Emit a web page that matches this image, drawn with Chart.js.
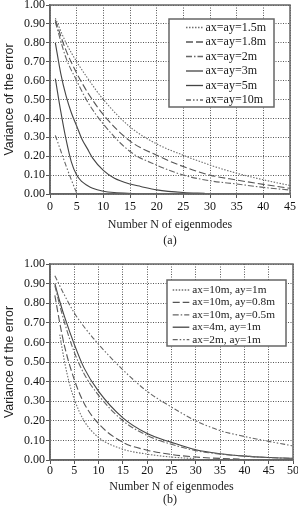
<!DOCTYPE html>
<html><head><meta charset="utf-8">
<script src="https://cdn.jsdelivr.net/npm/chart.js@4/dist/chart.umd.min.js"></script>
<style>
html,body{margin:0;padding:0;background:#fff;width:298px;height:506px;overflow:hidden}
.p{position:absolute;left:0;width:298px;height:253px}
</style></head><body>
<div class="p" style="top:0"><canvas id="ca"></canvas></div>
<div class="p" style="top:253px"><canvas id="cb"></canvas></div>
<script>
// ---------- Panel (a) data ----------
const labelsA = ["ax=ay=1.5m","ax=ay=1.8m","ax=ay=2m","ax=ay=3m","ax=ay=5m","ax=ay=10m"];
const xA15 = [1,3,5,7,10,15,20,25,30,35,40,45];
const yA15 = [0.93,0.80,0.70,0.615,0.50,0.355,0.265,0.205,0.153,0.11,0.075,0.045];
const xA18 = [1,3,5,7,10,15,20,25,30,35,40,45];
const yA18 = [0.92,0.76,0.64,0.54,0.42,0.28,0.205,0.145,0.10,0.074,0.051,0.03];
const xA2 = [1,3,5,7,10,15,20,25,30,35,40,45];
const yA2 = [0.91,0.72,0.60,0.49,0.37,0.225,0.153,0.10,0.07,0.053,0.035,0.021];
const xA3 = [1,2,3,4,5,6,7,8,10,12,15,17,20,25,29];
const yA3 = [0.80,0.64,0.52,0.43,0.36,0.29,0.24,0.19,0.125,0.085,0.053,0.04,0.022,0.008,0.004];
const xA5 = [1,2,3,4,5,6,7,8,10,12,16];
const yA5 = [0.61,0.44,0.29,0.17,0.10,0.065,0.045,0.03,0.015,0.008,0.003];
const xA10 = [1,2,3,4,5];
const yA10 = [0.31,0.23,0.15,0.075,0.005];
const xTicksA = [0,5,10,15,20,25,30,35,40,45];

// ---------- Panel (b) data ----------
const labelsB = ["ax=10m, ay=1m","ax=10m, ay=0.8m","ax=10m, ay=0.5m","ax=4m, ay=1m","ax=2m, ay=1m"];
const xB1 = [2,3,4,5,7,10,15,20,25,30];
const yB1 = [0.64,0.50,0.39,0.31,0.20,0.115,0.055,0.03,0.015,0.007];
const xB2 = [1,2,3,5,7,10,15,20,25,30,35,39];
const yB2 = [0.84,0.70,0.58,0.41,0.29,0.185,0.09,0.05,0.028,0.015,0.008,0.005];
const xB3 = [1,2,3,5,7,10,15,20,25,30,35,40,45,50];
const yB3 = [0.89,0.79,0.70,0.55,0.44,0.33,0.20,0.125,0.08,0.048,0.03,0.02,0.012,0.008];
const xB4 = [1,2,3,5,7,10,15,20,25,30,35,40,45,50];
const yB4 = [0.90,0.81,0.73,0.59,0.47,0.35,0.215,0.135,0.09,0.052,0.032,0.02,0.013,0.009];
const xB5 = [1,3,5,7,10,15,20,25,30,35,40,45,50];
const yB5 = [0.94,0.84,0.75,0.68,0.59,0.46,0.35,0.27,0.20,0.15,0.12,0.095,0.072];
const xTicksB = [0,5,10,15,20,25,30,35,40,45,50];
const yTicks = [0,0.1,0.2,0.3,0.4,0.5,0.6,0.7,0.8,0.9,1.0];

const xTitle = "Number N of eigenmodes";
const yTitle = "Variance of the error";

// ---------- styles ----------
const SERIF = "'Liberation Serif','Times New Roman',serif";
const SANS = "'Liberation Sans',Arial,sans-serif";
const DOT = [1.5,1.5], DASH = [7,3], DASHDOT = [6,2,1.5,2], DASHDOTDOT = [5,2,1.5,2,1.5,2];
function pts(xs, ys){ return xs.map((x,i)=>({x:x,y:ys[i]})); }
function ds(label, xs, ys, color, dash, w){
  return {label, data: pts(xs,ys), borderColor: color, borderDash: dash, borderWidth: w||1.1,
    pointRadius: 0, fill:false, cubicInterpolationMode:'monotone', borderCapStyle:'butt'};
}

const deco = {
  id: 'deco',
  afterDatasetsDraw(chart, args, o){
    const ctx = chart.ctx, a = chart.chartArea;
    ctx.save();
    ctx.strokeStyle = '#666'; ctx.lineWidth = 1.5; ctx.setLineDash([]);
    ctx.strokeRect(a.left, a.top, a.right-a.left, a.bottom-a.top);
    const L = o.legend;
    ctx.fillStyle = '#fff';
    ctx.fillRect(L.x1, L.y1, L.x2-L.x1, L.y2-L.y1);
    ctx.strokeRect(L.x1, L.y1, L.x2-L.x1, L.y2-L.y1);
    ctx.font = L.font + 'px ' + SERIF;
    ctx.textBaseline = 'middle'; ctx.textAlign = 'left';
    chart.data.datasets.forEach((d,i)=>{
      const y = L.row0 + i*L.dy;
      ctx.beginPath();
      ctx.strokeStyle = d.borderColor; ctx.lineWidth = d.borderWidth+0.2;
      ctx.setLineDash(d.borderDash||[]);
      ctx.moveTo(L.s1, y); ctx.lineTo(L.s2, y); ctx.stroke();
      ctx.setLineDash([]);
      ctx.fillStyle = '#1a1a1a';
      ctx.fillText(d.label, L.tx, y);
    });
    ctx.font = '12px ' + SERIF; ctx.fillStyle = '#1a1a1a'; ctx.textAlign = 'center';
    ctx.fillText(o.panel, o.px, o.py);
    ctx.restore();
  }
};

function makeChart(id, datasets, xmax, xticks, pad, xH, xTickPad, xTitlePad, plug){
  const grid = { color: '#555', lineWidth: 1, tickLength: 4, tickColor:'#555', drawTicks: true };
  const border = { display: true, color:'#666', width: 1.5, dash: [1,1.5] };
  return new Chart(document.getElementById(id), {
    type: 'line',
    data: { datasets },
    plugins: [plug],
    options: {
      responsive: true, maintainAspectRatio: false, animation: false,
      layout: { padding: pad },
      plugins: { legend: {display:false}, tooltip:{enabled:false} },
      scales: {
        x: {
          type: 'linear', min: 0, max: xmax,
          afterBuildTicks: s => { s.ticks = xticks.map(v=>({value:v})); },
          afterFit: s => { s.height = xH; s.paddingLeft = 0; s.paddingRight = 0; },
          grid: grid, border: border,
          ticks: { padding: xTickPad, color: '#111', font: { family: SERIF, size: 12 }, maxRotation: 0, autoSkip:false },
          title: { display: true, text: xTitle, color: '#222', font: { family: SERIF, size: 12 }, padding: { top: 0, bottom: xTitlePad } }
        },
        y: {
          type: 'linear', min: 0, max: 1,
          afterBuildTicks: s => { s.ticks = yTicks.map(v=>({value:v})); },
          afterFit: s => { s.width = 50; s.paddingTop = 0; s.paddingBottom = 0; },
          grid: grid, border: border,
          ticks: { padding: 1, color: '#111', font: { family: SERIF, size: 12 }, callback: v => Number(v).toFixed(2) },
          title: { display: true, text: yTitle, color: '#222', font: { family: SANS, size: 12.4 }, padding: { top: 2, bottom: 0 } }
        }
      }
    }
  });
}

const dsA = [
  ds(labelsA[0], xA15, yA15, '#6e6e6e', DOT),
  ds(labelsA[1], xA18, yA18, '#555', DASH),
  ds(labelsA[2], xA2, yA2, '#666', DASHDOT),
  ds(labelsA[3], xA3, yA3, '#444', []),
  ds(labelsA[4], xA5, yA5, '#444', []),
  ds(labelsA[5], xA10, yA10, '#666', DASHDOTDOT)
];
const dsB = [
  ds(labelsB[0], xB1, yB1, '#6e6e6e', DOT),
  ds(labelsB[1], xB2, yB2, '#555', DASH),
  ds(labelsB[2], xB3, yB3, '#666', DASHDOT),
  ds(labelsB[3], xB4, yB4, '#444', []),
  ds(labelsB[4], xB5, yB5, '#666', DASHDOTDOT)
];

const decoA = {id:'decoA', afterDatasetsDraw(c,a){ deco.afterDatasetsDraw(c,a,{
  legend:{x1:169,y1:19,x2:274,y2:107,row0:27.5,dy:14.5,s1:186,s2:203,tx:205.5,font:12},
  panel:'(a)', px:170, py:241 }); }};
const decoB = {id:'decoB', afterDatasetsDraw(c,a){ deco.afterDatasetsDraw(c,a,{
  legend:{x1:167,y1:27,x2:286,y2:93,row0:37,dy:12.4,s1:172.7,s2:189.3,tx:192.3,font:11.3},
  panel:'(b)', px:170, py:247 }); }};

makeChart('ca', dsA, 45, xTicksA, {top:5, right:8, bottom:0, left:0}, 59, 2, 21, decoA);
makeChart('cb', dsB, 50, xTicksB, {top:11, right:5, bottom:0, left:0}, 46, 0, 11.5, decoB);
</script>
</body></html>
